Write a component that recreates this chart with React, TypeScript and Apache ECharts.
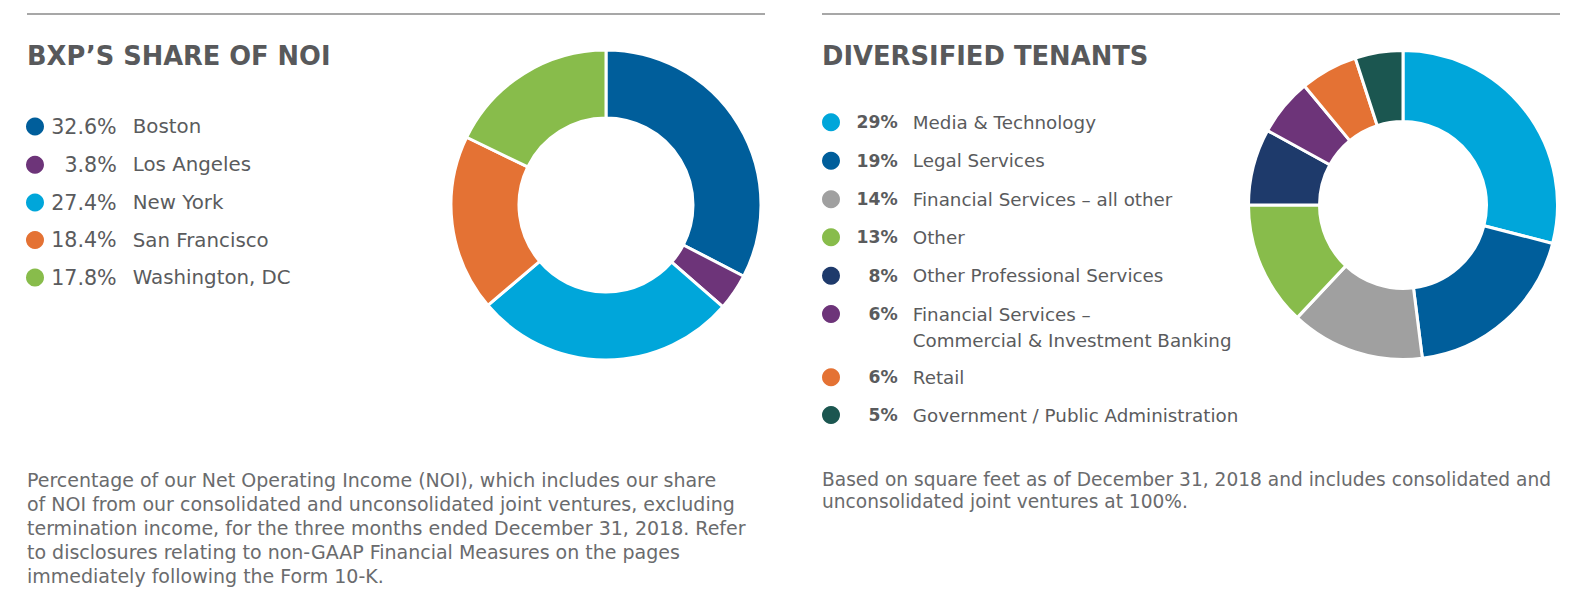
import React, { useEffect, useRef } from "react";
import * as echarts from "echarts";

// ---- Data ----
const noiNames = ["Boston", "Los Angeles", "New York", "San Francisco", "Washington, DC"];
const noiValues = [32.6, 3.8, 27.4, 18.4, 17.8];
const noiColors = ["#005e9b", "#6d3479", "#00a6da", "#e47234", "#88bc4b"];

const tenantNames = [
  "Media & Technology",
  "Legal Services",
  "Financial Services – all other",
  "Other",
  "Other Professional Services",
  "Financial Services –\nCommercial & Investment Banking",
  "Retail",
  "Government / Public Administration",
];
const tenantValues = [29, 19, 14, 13, 8, 6, 6, 5];
const tenantColors = ["#00a6da", "#005e9b", "#a0a0a0", "#88bc4b", "#1e3a6b", "#6d3479", "#e47234", "#1b5650"];

const noiTitle = "BXP’S SHARE OF NOI";
const tenantTitle = "DIVERSIFIED TENANTS";
const noiNote = [
  "Percentage of our Net Operating Income (NOI), which includes our share",
  "of NOI from our consolidated and unconsolidated joint ventures, excluding",
  "termination income, for the three months ended December 31, 2018. Refer",
  "to disclosures relating to non-GAAP Financial Measures on the pages",
  "immediately following the Form 10-K.",
];
const tenantNote = [
  "Based on square feet as of December 31, 2018 and includes consolidated and",
  "unconsolidated joint ventures at 100%.",
];

const FONT = "DejaVu Sans";
const TEXT = "#5a5b5d";

let measureCtx: CanvasRenderingContext2D | null = null;
function textWidth(text: string, size: number, weight: number | string) {
  if (!measureCtx) measureCtx = document.createElement("canvas").getContext("2d");
  measureCtx!.font = `${weight} ${size}px "${FONT}"`;
  return measureCtx!.measureText(text).width;
}

export default function App() {
  const ref = useRef<HTMLDivElement>(null);
  useEffect(() => {
    document.body.style.margin = "0";
    const chart = echarts.init(ref.current!, null, { renderer: "svg" });

    const legends: any[] = [];
    // Left legend
    const leftRows = [125, 163.3, 201, 238.5, 276];
    const LFS = 19.8;
    const LPFS = 20.6;
    const L_PCT_RIGHT = 67.7; // offset from text start to right edge of percentage
    const L_NAME_START = 83.8;
    noiNames.forEach((n, i) => {
      const pct = `${noiValues[i].toFixed(1)}%`;
      const w = textWidth(pct, LPFS, "normal");
      legends.push({
        data: [n],
        left: 26,
        top: leftRows[i] - 9,
        padding: 0,
        icon: "circle",
        itemWidth: 18,
        itemHeight: 18,
        selectedMode: false,
        itemStyle: { borderWidth: 0 },
        formatter: (name: string) => `{p|${pct}}{n|${name}}`,
        textStyle: {
          fontFamily: FONT,
          fontSize: LFS,
          color: TEXT,
          lineHeight: 18,
          rich: {
            p: { padding: [0, 0, 0, L_PCT_RIGHT - w], fontFamily: FONT, fontSize: LPFS, color: TEXT, lineHeight: 18 },
            n: { padding: [0, 0, 0, L_NAME_START - L_PCT_RIGHT], fontFamily: FONT, fontSize: LFS, color: TEXT, lineHeight: 18 },
          },
        },
      });
    });
    // Right legend
    const rightRows = [122.3, 160.7, 199.3, 237.3, 275.7, 314, 377.3, 415];
    const RFS = 18.3;
    const RPFS = 17.2;
    const R_PCT_RIGHT = 52.7;
    const R_NAME_START = 67.8;
    tenantNames.forEach((n, i) => {
      const multi = n.indexOf("\n") >= 0;
      const lh = multi ? 26 : 18;
      const pct = `${tenantValues[i]}%`;
      const w = textWidth(pct, RPFS, "bold");
      legends.push({
        data: [n],
        left: 822,
        top: rightRows[i] - (multi ? 39 : 9),
        padding: 0,
        icon: "circle",
        itemWidth: 18,
        itemHeight: 18,
        selectedMode: false,
        itemStyle: { borderWidth: 0 },
        formatter: (name: string) => {
          const parts = name.split("\n");
          let s = `{p|${pct}}{n|${parts[0]}}`;
          if (parts.length > 1) s += `\n{q|${parts[1]}}`;
          return s;
        },
        textStyle: {
          fontFamily: FONT,
          fontSize: RFS,
          color: TEXT,
          lineHeight: lh,
          padding: multi ? [26, 0, 0, 0] : 0,
          rich: {
            p: { padding: [0, 0, 0, R_PCT_RIGHT - w], fontFamily: FONT, fontSize: RPFS, fontWeight: 700, color: TEXT, lineHeight: lh },
            n: { padding: [0, 0, 0, R_NAME_START - R_PCT_RIGHT], fontFamily: FONT, fontSize: RFS, color: TEXT, lineHeight: lh },
            q: { padding: [0, 0, 0, R_NAME_START], fontFamily: FONT, fontSize: RFS, color: TEXT, lineHeight: lh },
          },
        },
      });
    });

    const noteStyle = { fontFamily: FONT, fontSize: 19, fill: "#6a6b6d", lineHeight: 24 };

    chart.setOption({
      animation: false,
      title: [
        {
          text: noiTitle,
          left: 27,
          top: 43,
          padding: 0,
          textStyle: { fontFamily: FONT, fontSize: 25.7, fontWeight: 700, color: "#58595b", lineHeight: 25 },
        },
        {
          text: tenantTitle,
          left: 822,
          top: 43,
          padding: 0,
          textStyle: { fontFamily: FONT, fontSize: 25.8, fontWeight: 700, color: "#58595b", lineHeight: 25 },
        },
      ],
      legend: legends,
      graphic: [
        { type: "line", shape: { x1: 27, y1: 14, x2: 765, y2: 14 }, style: { stroke: "#8a8a8a", lineWidth: 1.6 } },
        { type: "line", shape: { x1: 822, y1: 14, x2: 1560, y2: 14 }, style: { stroke: "#8a8a8a", lineWidth: 1.6 } },
        { type: "text", left: 27, top: 468, style: { ...noteStyle, text: noiNote.join("\n") } },
        { type: "text", left: 822, top: 468, style: { ...noteStyle, fontSize: 18.6, lineHeight: 22, text: tenantNote.join("\n") } },
      ],
      series: [
        {
          type: "pie",
          center: [606, 205],
          radius: [87, 155],
          startAngle: 90,
          clockwise: true,
          silent: true,
          label: { show: false },
          labelLine: { show: false },
          itemStyle: { borderColor: "#ffffff", borderWidth: 3 },
          emphasis: { disabled: true },
          data: noiNames.map((n, i) => ({ name: n, value: noiValues[i], itemStyle: { color: noiColors[i] } })),
        },
        {
          type: "pie",
          center: [1403, 205],
          radius: [83.5, 154.5],
          startAngle: 90,
          clockwise: true,
          silent: true,
          label: { show: false },
          labelLine: { show: false },
          itemStyle: { borderColor: "#ffffff", borderWidth: 3 },
          emphasis: { disabled: true },
          data: tenantNames.map((n, i) => ({ name: n, value: tenantValues[i], itemStyle: { color: tenantColors[i] } })),
        },
      ],
    });
    return () => chart.dispose();
  }, []);
  return <div ref={ref} style={{ width: 1578, height: 612, overflow: "hidden" }} />;
}
